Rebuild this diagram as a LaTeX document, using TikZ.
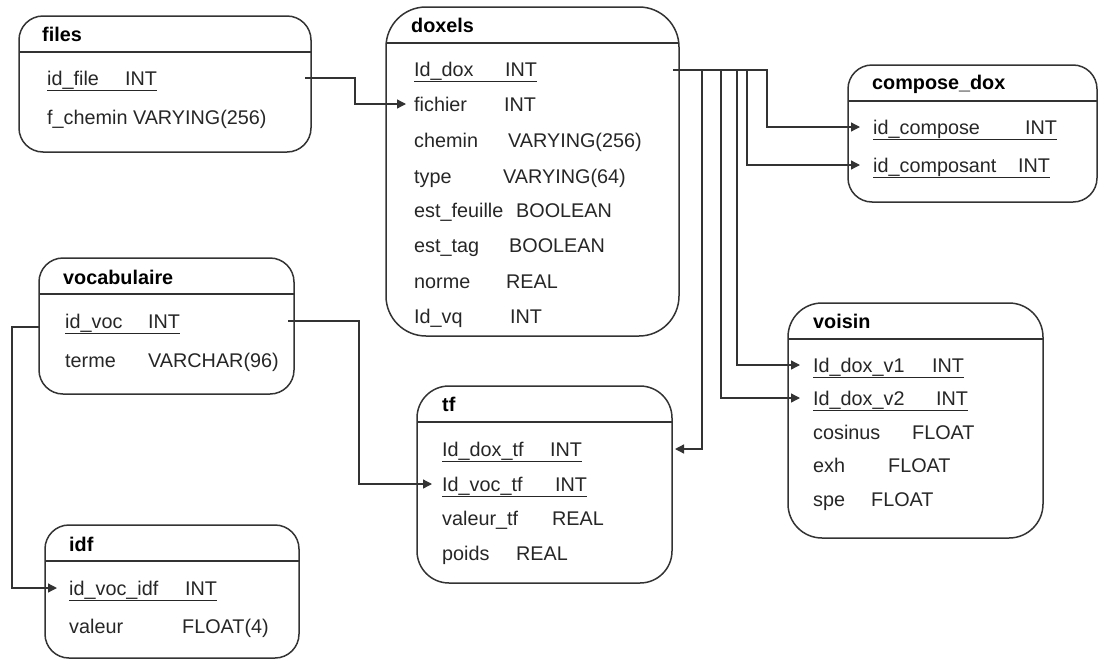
\documentclass[tikz,border=0pt]{standalone}
\usepackage{fontspec}
\setmainfont{Liberation Sans}
\usepackage{tikz}
\usetikzlibrary{
  arrows.meta,
  calc,
}
\tikzstyle{tbl} = [
  draw=black!80,
  line width=1.5pt,
  anchor=north west,
  inner sep=0pt,
  outer sep=0pt,
]
\tikzstyle{ttl} = [
  anchor=west,
  inner sep=0pt,
  font=\fontsize{19.8}{23}\selectfont\bfseries,
  text=black,
]
\tikzstyle{fld} = [
  anchor=west,
  inner xsep=0pt,
  inner ysep=2pt,
  text height=14pt,
  text depth=0pt,
  font=\fontsize{19.8}{23}\selectfont,
  text=black!85,
]
\tikzstyle{link} = [
  -{Triangle[length=9pt,width=9pt]},
  draw=black!80,
  line width=1.3pt,
  shorten >=10pt,
]

\begin{document}
\begin{tikzpicture}[x=1pt,y=-1pt]
        \useasboundingbox (0,0) rectangle (1098,659);

        %% tables
        \node [tbl, minimum width=292pt, minimum height=136pt, rounded corners=24pt] (files) at (19,16) {};
        \node [tbl, minimum width=293pt, minimum height=329pt, rounded corners=40pt] (doxels) at (386,7) {};
        \node [tbl, minimum width=249pt, minimum height=137pt, rounded corners=24pt] (compose) at (848,65) {};
        \node [tbl, minimum width=255pt, minimum height=136pt, rounded corners=24pt] (vocab) at (39,258) {};
        \node [tbl, minimum width=255pt, minimum height=197pt, rounded corners=32pt] (tf) at (417,386) {};
        \node [tbl, minimum width=255pt, minimum height=235pt, rounded corners=34pt] (voisin) at (788,303) {};
        \node [tbl, minimum width=254pt, minimum height=133pt, rounded corners=24pt] (idf) at (45,525) {};

        \foreach \t in {files,doxels,compose,vocab,tf,voisin,idf} {
          \draw [draw=black!80, line width=1.5pt] ([yshift=-36pt]\t.north west) -- ([yshift=-36pt]\t.north east);
        }

        \node [ttl] (filesT) at (42,34) {files};
        \node [ttl] (doxelsT) at (411,25) {doxels};
        \node [ttl] (composeT) at (872,84) {compose\_dox};
        \node [ttl] (vocabT) at (63,277) {vocabulaire};
        \node [ttl] (tfT) at (442,404) {tf};
        \node [ttl] (voisinT) at (813,321) {voisin};
        \node [ttl] (idfT) at (69,544) {idf};

        %% files
        \node [fld] (fid) at (47,78) {\underline{\makebox[78pt][l]{id\_file}INT}};
        \node [fld] (fchem) at (47,117) {f\_chemin VARYING(256)};

        %% doxels
        \node [fld] (did) at (414,69) {\underline{\makebox[91pt][l]{Id\_dox}INT}};
        \node [fld] (dfich) at (414,104) {\makebox[90pt][l]{fichier}INT};
        \node [fld] (dchem) at (414,140) {\makebox[94pt][l]{chemin}VARYING(256)};
        \node [fld] (dtype) at (414,176) {\makebox[89pt][l]{type}VARYING(64)};
        \node [fld] (dfeuil) at (414,210) {\makebox[102pt][l]{est\_feuille}BOOLEAN};
        \node [fld] (dtag) at (414,245) {\makebox[95pt][l]{est\_tag}BOOLEAN};
        \node [fld] (dnorme) at (414,281) {\makebox[92pt][l]{norme}REAL};
        \node [fld] (dvq) at (414,316) {\makebox[96pt][l]{Id\_vq}INT};

        %% compose_dox
        \node [fld] (cmp1) at (873,127) {\underline{\makebox[152pt][l]{id\_compose}INT}};
        \node [fld] (cmp2) at (873,165) {\underline{\makebox[145pt][l]{id\_composant}INT}};

        %% vocabulaire
        \node [fld] (vid) at (65,321) {\underline{\makebox[83pt][l]{id\_voc}INT}};
        \node [fld] (vterme) at (65,360) {\makebox[83pt][l]{terme}VARCHAR(96)};

        %% tf
        \node [fld] (tfdox) at (442,449) {\underline{\makebox[108pt][l]{Id\_dox\_tf}INT}};
        \node [fld] (tfvoc) at (442,484) {\underline{\makebox[113pt][l]{Id\_voc\_tf}INT}};
        \node [fld] (tfval) at (442,518) {\makebox[110pt][l]{valeur\_tf}REAL};
        \node [fld] (tfpoids) at (442,553) {\makebox[74pt][l]{poids}REAL};

        %% voisin
        \node [fld] (vv1) at (813,365) {\underline{\makebox[119pt][l]{Id\_dox\_v1}INT}};
        \node [fld] (vv2) at (813,398) {\underline{\makebox[123pt][l]{Id\_dox\_v2}INT}};
        \node [fld] (vcos) at (813,432) {\makebox[99pt][l]{cosinus}FLOAT};
        \node [fld] (vexh) at (813,465) {\makebox[75pt][l]{exh}FLOAT};
        \node [fld] (vspe) at (813,499) {\makebox[58pt][l]{spe}FLOAT};

        %% idf
        \node [fld] (iid) at (69,588) {\underline{\makebox[116pt][l]{id\_voc\_idf}INT}};
        \node [fld] (ival) at (69,626) {\makebox[113pt][l]{valeur}FLOAT(4)};

        %% links
        \coordinate (fout) at (305,78);
        \coordinate (dout) at (673,70);
        \coordinate (vout) at (288,321);
        \coordinate (vleft) at (39,327);

        \draw [link, shorten >=8pt] (fout) -- (355,78) |- (dfich.west);
        \draw [link, shorten >=13pt] (dout) -- (767,70) |- (cmp1.west);
        \draw [link, shorten >=13pt] (dout) -- (747,70) |- (cmp2.west);
        \draw [link, shorten >=13pt] (dout) -- (737,70) |- (vv1.west);
        \draw [link, shorten >=13pt] (dout) -- (721,70) |- (vv2.west);
        \draw [link, shorten >=3pt] (dout) -- (702,70) |- (tfdox -| tf.east);
        \draw [link] (vout) -- (359,321) |- (tfvoc.west);
        \draw [link, shorten >=12pt] (vleft) -- (12,327) |- (iid.west);
      \end{tikzpicture}
\end{document}
